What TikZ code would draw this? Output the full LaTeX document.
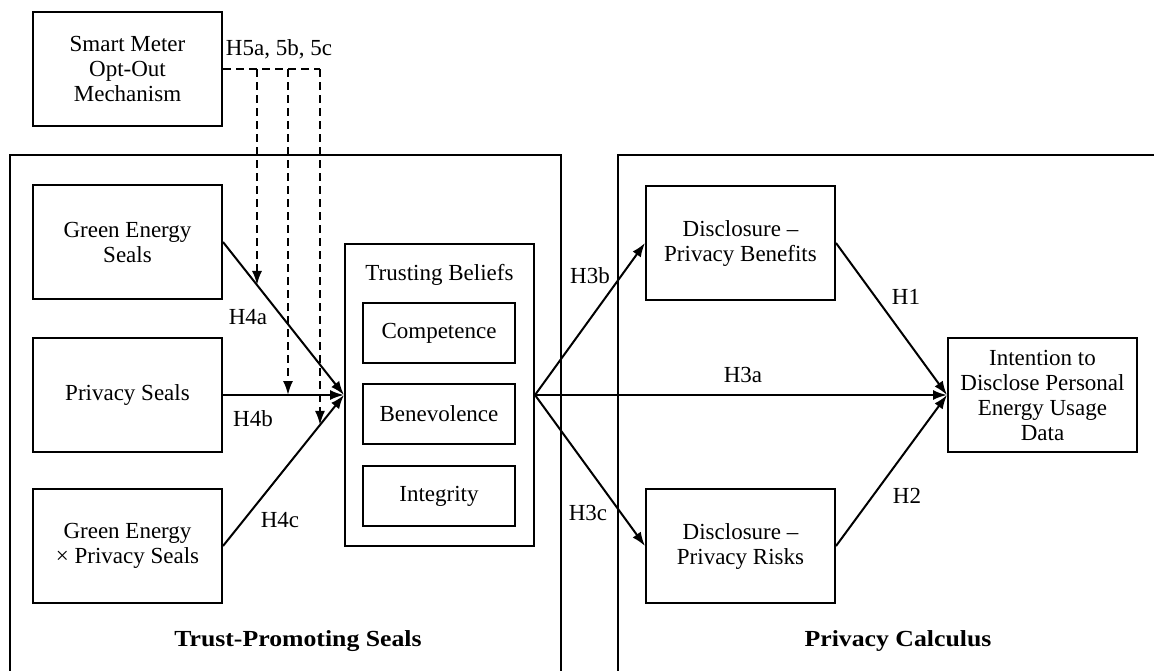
\documentclass[tikz,border=0pt]{standalone}
\usepackage{fontspec}
\setmainfont{Liberation Serif}
\usetikzlibrary{arrows.meta,calc}
\begin{document}
\begin{tikzpicture}[x=1pt,y=-1pt,
  every node/.style={font=\fontsize{23}{25}\selectfont},
  box/.style={draw,line width=2pt,minimum width=189pt,minimum height=114pt,align=center,inner sep=0pt},
  ibox/.style={draw,line width=2pt,minimum width=152pt,minimum height=60pt,align=center,inner sep=0pt},
  frame/.style={line width=2pt},
  arr/.style={line width=2pt,-{Latex[length=14pt,width=10pt]}},
  darr/.style={line width=2pt,dash pattern=on 8pt off 5pt,-{Latex[length=14pt,width=10pt]}},
  dline/.style={line width=2pt,dash pattern=on 8pt off 5pt},
  lbl/.style={inner sep=1pt},
  title/.style={font=\fontsize{23}{25}\selectfont\bfseries}]
\useasboundingbox (0,0) rectangle (1154,670);
\clip (0,0) rectangle (1154,670);
% containers
\draw[frame] (10,680) -- (10,155) -- (561,155) -- (561,680);
\draw[frame] (618,680) -- (618,155) -- (1170,155);
\node[title] (t1) at (298,641) {\scalebox{1.12}[1]{Trust-Promoting Seals}};
\node[title] (t2) at (898,641) {\scalebox{1.12}[1]{Privacy Calculus}};
% boxes
\node[box] (sm) at (127.5,69) {Smart Meter\\Opt-Out\\Mechanism};
\node[box] (ge) at (127.5,242) {Green Energy\\Seals};
\node[box] (ps) at (127.5,395) {Privacy Seals};
\node[box] (gx) at (127.5,546) {Green Energy\\\texttimes{} Privacy Seals};
\node[box,minimum height=302pt] (tb) at (439.5,395) {};
\node (tbt) at (439.5,275) {Trusting Beliefs};
\node[ibox] (comp) at (439,333) {Competence};
\node[ibox] (benev) at (439,414) {Benevolence};
\node[ibox] (integ) at (439,496) {Integrity};
\node[box] (db) at (740.5,243) {Disclosure --\\Privacy Benefits};
\node[box] (dr) at (740.5,546) {Disclosure --\\Privacy Risks};
\node[box] (it) at (1042.5,395) {Intention to\\Disclose Personal\\Energy Usage\\Data};
% arrows
\draw[arr] (ge.east) -- (tb.west);
\draw[arr] (ps.east) -- (tb.west);
\draw[arr] (gx.east) -- (tb.west);
\draw[arr] (tb.east) -- (db.west);
\draw[arr] (tb.east) -- (it.west);
\draw[arr] (tb.east) -- (dr.west);
\draw[arr] (db.east) -- (it.west);
\draw[arr] (dr.east) -- (it.west);
% moderation
\coordinate (m1) at (intersection of ge.east--tb.west and 257,0--257,100);
\coordinate (m2) at (intersection of ps.east--tb.west and 288,0--288,100);
\coordinate (m3) at (intersection of gx.east--tb.west and 320,0--320,100);
\coordinate (j3) at (m3 |- sm.east);
\draw[dline] (sm.east) -- (j3);
\draw[darr] (m1 |- sm.east) -- (m1);
\draw[darr] (m2 |- sm.east) -- (m2);
\draw[darr] (j3) -- (m3);
% labels
\node[lbl] (h5) at (279,49) {H5a, 5b, 5c};
\node[lbl] (h4a) at (248,317) {H4a};
\node[lbl] (h4b) at (253,419) {H4b};
\node[lbl] (h4c) at (280,520) {H4c};
\node[lbl] (h3b) at (590,276) {H3b};
\node[lbl] (h3a) at (743,375) {H3a};
\node[lbl] (h3c) at (588,513) {H3c};
\node[lbl] (h1) at (906,297) {H1};
\node[lbl] (h2) at (907,496) {H2};
\end{tikzpicture}
\end{document}
